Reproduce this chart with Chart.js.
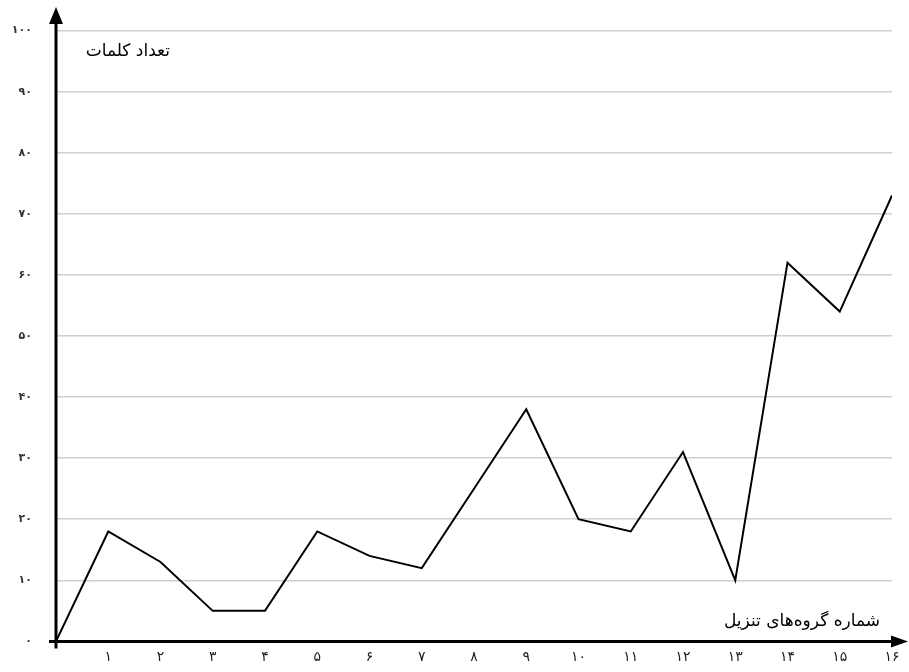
<!DOCTYPE html>
<html>
<head>
<meta charset="utf-8">
<script src="https://cdn.jsdelivr.net/npm/chart.js@4"></script>
<style>
  html, body { margin: 0; padding: 0; background: #fff; overflow: hidden; }
  #wrap { width: 909px; height: 672px; }
  canvas { display: block; }
</style>
</head>
<body>
<div id="wrap"><canvas id="chart" width="909" height="672"></canvas></div>
<script>
const groups = [0, 1, 2, 3, 4, 5, 6, 7, 8, 9, 10, 11, 12, 13, 14, 15, 16];
const wordCounts = [0, 18, 13, 5, 5, 18, 14, 12, 25, 38, 20, 18, 31, 10, 62, 54, 73];
const xTickLabels = ['', '۱', '۲', '۳', '۴', '۵', '۶', '۷', '۸', '۹', '۱۰', '۱۱', '۱۲', '۱۳', '۱۴', '۱۵', '۱۶'];
const yTickLabels = ['۰', '۱۰', '۲۰', '۳۰', '۴۰', '۵۰', '۶۰', '۷۰', '۸۰', '۹۰', '۱۰۰'];
const yTitle = 'تعداد کلمات';
const xTitle = 'شماره گروه‌های تنزیل';

const faFont = '"DejaVu Sans", sans-serif';

// axes with arrowheads and the two titles inside the plot
const axesPlugin = {
  id: 'axes',
  afterDraw(c) {
    const ctx = c.ctx;
    const a = c.chartArea;
    ctx.save();
    ctx.strokeStyle = '#000';
    ctx.fillStyle = '#000';
    ctx.lineWidth = 3;
    ctx.beginPath();
    ctx.moveTo(a.left, a.bottom + 7);
    ctx.lineTo(a.left, 22);
    ctx.stroke();
    ctx.beginPath();
    ctx.moveTo(a.left - 7, a.bottom);
    ctx.lineTo(896, a.bottom);
    ctx.stroke();
    ctx.beginPath();
    ctx.moveTo(a.left, 7);
    ctx.lineTo(a.left - 7, 24);
    ctx.lineTo(a.left + 7, 24);
    ctx.closePath();
    ctx.fill();
    ctx.beginPath();
    ctx.moveTo(908, a.bottom);
    ctx.lineTo(891, a.bottom - 6);
    ctx.lineTo(891, a.bottom + 6);
    ctx.closePath();
    ctx.fill();

    ctx.font = '17px ' + faFont;
    ctx.direction = 'rtl';
    ctx.textAlign = 'right';
    ctx.textBaseline = 'middle';
    ctx.fillText(yTitle, 170, 52);
    ctx.fillText(xTitle, 880, 622);
    ctx.restore();
  }
};

new Chart(document.getElementById('chart'), {
  type: 'line',
  data: {
    datasets: [{
      data: groups.map((g, i) => ({ x: g, y: wordCounts[i] })),
      borderColor: '#000',
      borderWidth: 2,
      pointRadius: 0,
      tension: 0,
      fill: false
    }]
  },
  options: {
    responsive: false,
    animation: false,
    layout: { padding: { top: 28, right: 17, left: 0, bottom: 0 } },
    plugins: { legend: { display: false }, tooltip: { enabled: false } },
    scales: {
      x: {
        type: 'linear',
        min: 0,
        max: 16,
        afterFit(s) { s.height = 27; },
        grid: { display: false, drawTicks: false },
        border: { display: false },
        ticks: {
          stepSize: 1,
          autoSkip: false,
          maxRotation: 0,
          padding: 8,
          color: '#222',
          font: { family: faFont, size: 14 },
          callback: (v) => xTickLabels[v]
        }
      },
      y: {
        min: 0,
        max: 100,
        afterFit(s) { s.width = 56; },
        grid: { color: '#cfcfcf', lineWidth: 1.5, drawTicks: false },
        border: { display: false },
        ticks: {
          stepSize: 10,
          padding: 24,
          color: '#333',
          font: { family: faFont, size: 11, weight: 'bold' },
          callback: (v) => yTickLabels[v / 10]
        }
      }
    }
  },
  plugins: [axesPlugin]
});
</script>
</body>
</html>
